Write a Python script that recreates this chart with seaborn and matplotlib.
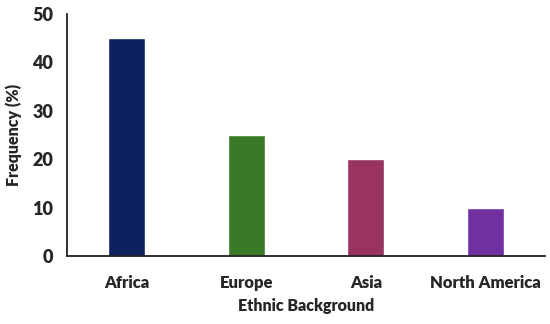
import numpy as np
import pandas as pd
import matplotlib
matplotlib.use("Agg")
import matplotlib.pyplot as plt
import seaborn as sns

# chart data
regions = ["Africa", "Europe", "Asia", "North America"]
frequency = [45, 25, 20, 10]
bar_colors = ["#0E2060", "#3A7A26", "#993360", "#7030A0"]

df = pd.DataFrame({"Region": regions, "Frequency": frequency})

sns.set_theme(style="white")
plt.rcParams["font.family"] = ["Lato", "DejaVu Sans"]

fig = plt.figure(figsize=(5.5, 3.24), dpi=100)
ax = fig.add_axes([0.122, 0.21, 0.869, 0.747])

sns.barplot(data=df, x="Region", y="Frequency", hue="Region",
            palette=bar_colors, width=0.31, legend=False, ax=ax,
            saturation=1)

ax.set_ylim(0, 50)
ax.set_yticks(np.arange(0, 51, 10))
ax.set_xlim(-0.5, 3.5)
for s in ["top", "right"]:
    ax.spines[s].set_visible(False)
for s in ["left", "bottom"]:
    ax.spines[s].set_color("#222222")
    ax.spines[s].set_linewidth(1.3)
ax.tick_params(axis="y", length=0, labelsize=13, pad=10)
ax.tick_params(axis="x", length=0, labelsize=12, pad=14)
for lbl in ax.get_xticklabels() + ax.get_yticklabels():
    lbl.set_fontweight("heavy")

ax.set_xlabel("Ethnic Background", fontsize=11.5, fontweight="heavy", labelpad=5)
ax.set_ylabel("Frequency (%)", fontsize=11.5, fontweight="heavy", labelpad=7)

fig.savefig("out.png", dpi=100)
